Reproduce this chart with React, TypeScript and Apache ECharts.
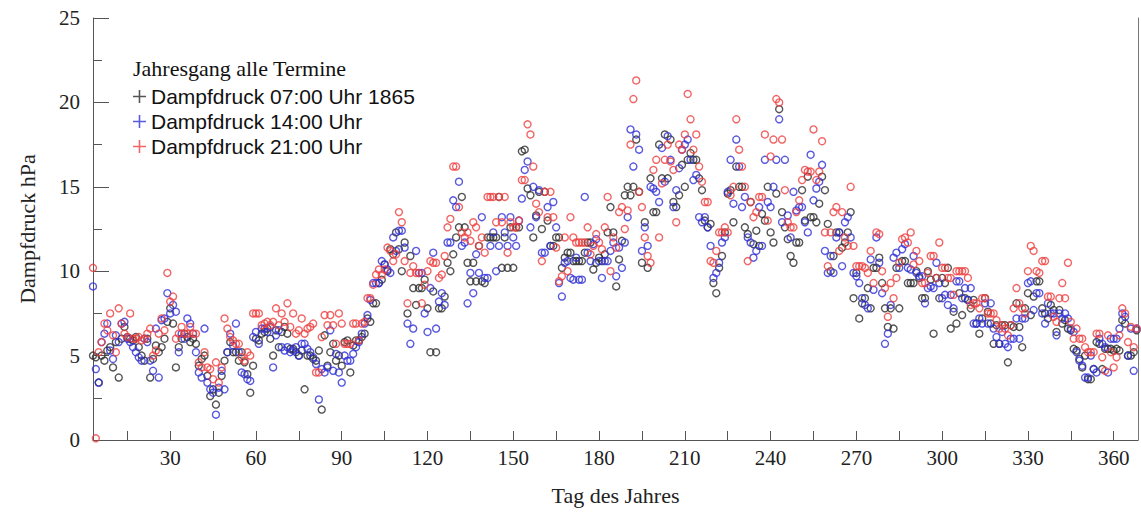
import React, { useEffect, useRef } from "react";
import * as echarts from "echarts";

// first day of the record shown on the axis
const FIRST_DAY = 3;

// Dampfdruck 07:00 Uhr 1865 (hPa), one value per day from FIRST_DAY
const black0700 = [
  5.0, 4.9, 3.4, 5.0, 4.7, 5.3, 5.5, 4.3, 5.8, 3.7,
  6.0, 6.7, 6.1, 6.0, 5.9, 6.1, 5.5, 5.0, 4.7, 6.0,
  3.7, 4.8, 5.6, 5.2, 5.5, 6.0, 7.0, 7.8, 6.9, 4.3,
  5.5, 6.0, 6.3, 6.1, 5.8, 6.0, 5.7, 4.4, 4.8, 5.0,
  3.8, 2.6, 3.0, 2.1, 2.8, 3.8, 4.7, 5.2, 5.8, 5.2,
  5.2, 4.7, 5.2, 4.6, 3.9, 2.8, 4.4, 6.0, 5.9, 6.3,
  6.4, 6.6, 6.0, 5.0, 6.5, 5.5, 6.4, 6.7, 6.3, 5.4,
  5.4, 5.2, 5.0, 5.3, 3.0, 5.0, 5.0, 4.8, 4.7, 5.3,
  1.8, 6.2, 4.4, 5.2, 5.7, 4.7, 5.0, 4.4, 5.8, 5.9,
  4.0, 5.6, 5.9, 5.9, 6.1, 6.3, 7.2, 7.0, 8.1, 8.1,
  9.3, 9.5, 10.4, 10.0, 11.3, 11.0, 12.3, 11.3, 10.0, 11.7,
  7.5, 10.9, 9.0, 8.0, 9.0, 9.0, 9.5, 7.8, 5.2, 8.8,
  5.2, 7.8, 7.8, 8.5, 10.5, 10.0, 11.0, 12.0, 12.6, 14.4,
  12.6, 10.5, 9.4, 10.5, 9.4, 11.5, 9.4, 9.3, 12.0, 12.0,
  12.0, 12.0, 14.4, 10.2, 12.0, 10.2, 12.6, 10.2, 12.6, 12.6,
  17.1, 17.2, 14.9, 14.5, 12.0, 13.3, 14.7, 12.5, 14.7, 13.0,
  11.5, 11.5, 12.0, 12.0, 10.2, 10.8, 11.1, 11.1, 10.6, 10.6,
  10.6, 10.6, 11.1, 11.7, 11.7, 10.1, 10.5, 10.8, 10.6, 11.0,
  12.3, 13.8, 12.3, 9.1, 10.7, 11.8, 14.5, 15.0, 14.5, 15.0,
  17.8, 14.7, 10.5, 12.9, 10.2, 15.5, 13.5, 13.5, 17.5, 15.5,
  18.1, 15.5, 17.8, 14.1, 13.8, 14.5, 16.3, 15.0, 16.6, 17.0,
  16.6, 16.6, 15.5, 14.8, 13.0, 12.6, 12.8, 9.3, 8.7, 10.2,
  10.9, 12.3, 14.6, 14.8, 12.9, 16.2, 15.0, 15.0, 12.6, 12.2,
  14.1, 11.6, 12.4, 11.5, 13.4, 13.0, 15.0, 12.3, 11.7, 14.6,
  19.6, 13.5, 12.6, 11.9, 10.9, 10.5, 11.7, 11.7, 14.8, 13.0,
  15.6, 13.2, 13.2, 12.9, 14.0, 15.6, 14.8, 12.8, 10.0, 10.9,
  12.3, 12.3, 11.4, 11.7, 12.3, 13.5, 8.4, 9.9, 7.2, 8.1,
  8.4, 9.0, 7.8, 10.2, 10.2, 10.8, 9.3, 7.8, 6.7, 7.8,
  6.6, 10.2, 7.8, 10.6, 10.6, 9.3, 9.3, 9.3, 10.0, 9.6,
  8.4, 8.4, 10.0, 9.5, 6.3, 9.6, 8.4, 9.6, 9.3, 10.2,
  6.6, 7.6, 6.9, 8.7, 7.4, 8.4, 8.3, 7.8, 8.3, 6.9,
  6.3, 7.2, 8.4, 7.6, 6.9, 5.7, 6.8, 5.7, 6.8, 6.8,
  4.6, 6.8, 6.7, 8.1, 6.7, 5.5, 7.8, 8.7, 7.4, 8.5,
  9.4, 9.4, 7.8, 7.5, 7.2, 8.0, 7.7, 6.4, 7.7, 6.9,
  7.1, 6.6, 6.5, 5.4, 5.3, 4.8, 4.3, 5.0, 3.6, 3.6,
  4.2, 5.8, 5.7, 4.2, 5.4, 5.4, 5.4, 5.3, 5.4, 5.3,
  7.1, 6.9, 5.0, 5.0, 5.2, 6.5,
];

// Dampfdruck 14:00 Uhr (hPa)
const blue1400 = [
  9.1, 4.2, 3.4, 5.8, 6.3, 6.9, 5.3, 4.8, 6.2, 5.8,
  6.9, 7.0, 6.0, 5.8, 5.5, 5.2, 4.9, 4.7, 6.0, 5.8,
  4.7, 4.1, 6.6, 3.7, 7.1, 7.2, 8.7, 7.5, 8.0, 7.6,
  5.2, 6.3, 6.0, 7.2, 6.9, 6.3, 5.2, 4.0, 3.7, 6.6,
  3.4, 3.0, 2.8, 1.5, 3.1, 4.1, 3.0, 5.2, 6.3, 5.6,
  6.9, 5.2, 4.0, 3.9, 3.6, 3.5, 6.1, 6.4, 5.7, 6.6,
  6.6, 6.4, 6.7, 4.3, 6.2, 6.5, 5.5, 5.3, 5.5, 5.2,
  5.3, 5.5, 5.0, 5.7, 5.7, 5.4, 5.2, 4.9, 4.5, 2.4,
  4.2, 4.0, 4.3, 6.5, 4.1, 5.1, 4.0, 3.4, 5.0, 4.7,
  4.7, 5.1, 5.5, 5.8, 6.3, 6.9, 7.4, 8.3, 9.3, 9.3,
  9.3, 10.6, 10.4, 10.1, 9.9, 12.0, 11.2, 12.4, 12.4, 11.4,
  6.9, 5.7, 6.6, 11.2, 9.9, 9.9, 7.5, 6.4, 9.0, 11.1,
  6.6, 8.2, 8.7, 8.0, 11.7, 11.7, 14.2, 13.8, 15.3, 11.5,
  11.7, 8.1, 9.9, 8.7, 11.0, 9.9, 13.2, 9.6, 9.6, 11.5,
  12.3, 10.0, 11.5, 13.2, 12.3, 11.5, 13.2, 12.0, 11.5, 13.0,
  14.3, 16.0, 16.5, 12.6, 15.0, 13.2, 14.8, 11.1, 11.1, 13.8,
  11.5, 14.1, 12.6, 9.3, 8.5, 10.5, 10.6, 9.6, 9.5, 10.8,
  9.5, 9.5, 14.4, 11.1, 10.6, 11.6, 11.9, 10.6, 9.6, 10.6,
  10.6, 11.2, 11.7, 9.7, 11.4, 10.2, 11.7, 13.2, 18.4, 16.2,
  18.1, 17.2, 11.2, 12.6, 11.5, 15.0, 14.9, 14.7, 14.1, 17.3,
  15.3, 18.0, 16.6, 13.8, 14.8, 16.1, 17.2, 17.5, 17.8, 16.6,
  15.4, 15.7, 13.2, 12.9, 13.2, 12.6, 11.5, 9.6, 9.9, 10.5,
  11.7, 12.0, 14.7, 16.6, 14.0, 17.8, 16.2, 13.8, 14.4, 12.0,
  11.7, 10.8, 11.2, 13.8, 11.5, 16.6, 14.1, 13.8, 15.0, 16.6,
  19.0, 12.9, 16.6, 13.3, 12.0, 14.7, 13.6, 13.8, 13.8, 12.9,
  12.3, 16.9, 14.2, 14.9, 15.3, 16.3, 11.2, 9.9, 10.9, 9.9,
  12.0, 12.3, 10.3, 12.9, 13.2, 12.0, 9.9, 9.7, 9.3, 8.4,
  8.0, 7.8, 10.7, 8.9, 12.0, 10.5, 8.7, 5.7, 6.3, 8.0,
  10.8, 11.1, 10.2, 11.3, 11.6, 10.2, 10.1, 10.9, 9.9, 9.7,
  9.7, 8.1, 9.0, 9.1, 9.0, 10.5, 9.3, 8.4, 8.6, 8.0,
  8.6, 7.8, 9.4, 9.4, 8.4, 9.0, 8.3, 9.0, 6.9, 6.9,
  7.2, 6.9, 8.1, 6.9, 8.1, 6.6, 6.1, 5.7, 6.4, 5.7,
  5.5, 6.0, 6.0, 7.2, 6.0, 7.2, 7.2, 9.3, 9.4, 7.7,
  8.7, 8.7, 7.5, 6.9, 8.1, 7.5, 7.5, 6.2, 7.5, 7.2,
  7.5, 7.2, 6.6, 6.4, 5.2, 4.7, 4.4, 3.7, 3.7, 5.0,
  4.2, 4.0, 6.0, 5.7, 5.5, 4.0, 6.0, 6.0, 6.0, 6.6,
  7.5, 7.3, 5.0, 6.6, 4.1, 6.6,
];

// Dampfdruck 21:00 Uhr (hPa)
const red2100 = [
  10.2, 0.1, 5.2, 5.8, 6.9, 6.5, 7.5, 6.2, 5.2, 7.8,
  6.9, 6.3, 6.1, 7.5, 6.0, 6.0, 6.1, 5.9, 6.0, 6.3,
  6.6, 5.0, 5.3, 6.3, 7.2, 6.5, 9.9, 8.2, 8.5, 6.0,
  6.3, 6.7, 6.3, 6.3, 6.7, 6.3, 6.3, 4.6, 4.3, 5.2,
  4.3, 4.2, 3.6, 4.6, 3.4, 4.3, 7.2, 6.6, 6.1, 5.9,
  5.7, 5.7, 4.9, 4.7, 5.2, 5.0, 7.5, 7.5, 7.5, 6.8,
  6.9, 7.0, 6.8, 7.0, 7.8, 6.8, 7.5, 7.0, 8.1, 6.7,
  7.5, 6.3, 6.5, 7.2, 6.3, 6.6, 6.7, 6.9, 4.0, 4.0,
  6.1, 7.4, 6.8, 7.4, 6.8, 5.7, 7.5, 6.9, 5.7, 5.7,
  5.7, 6.9, 6.9, 5.9, 6.9, 7.0, 8.4, 8.4, 9.2, 9.8,
  10.1, 9.8, 10.1, 11.4, 11.2, 10.6, 11.0, 13.5, 12.9, 10.6,
  8.1, 9.9, 10.3, 9.9, 9.9, 8.1, 9.2, 10.0, 10.6, 10.5,
  10.5, 9.6, 9.8, 10.9, 12.6, 13.1, 16.2, 16.2, 13.8, 12.3,
  12.0, 12.3, 11.8, 12.9, 12.6, 11.5, 12.0, 11.1, 14.4, 14.4,
  14.4, 12.9, 14.4, 12.9, 14.4, 11.1, 12.9, 12.6, 12.6, 13.0,
  15.4, 15.4, 18.7, 18.1, 16.2, 14.0, 13.5, 10.6, 14.7, 13.2,
  14.7, 13.2, 11.4, 9.4, 9.7, 12.0, 10.0, 13.2, 12.0, 11.7,
  11.7, 11.7, 11.7, 12.6, 11.0, 11.5, 12.2, 11.7, 11.3, 12.6,
  14.4, 10.0, 12.0, 11.4, 13.5, 13.8, 12.5, 13.6, 17.5, 20.2,
  21.3, 14.7, 13.8, 12.0, 10.9, 10.5, 16.0, 16.6, 12.0, 15.2,
  16.6, 17.5, 16.5, 16.0, 12.9, 17.5, 17.2, 18.1, 20.5, 19.0,
  17.2, 18.1, 16.2, 15.3, 14.1, 14.1, 10.6, 10.5, 11.2, 12.3,
  12.3, 12.6, 12.3, 14.5, 15.0, 19.0, 17.2, 16.2, 15.0, 10.6,
  14.1, 13.2, 13.5, 14.4, 14.4, 18.1, 13.0, 16.8, 17.8, 20.2,
  20.0, 17.8, 14.8, 12.9, 12.6, 12.6, 13.5, 14.2, 15.4, 16.0,
  15.9, 15.9, 18.4, 15.4, 15.9, 17.7, 12.3, 10.3, 12.3, 13.5,
  13.8, 11.2, 13.5, 12.0, 11.5, 15.0, 11.5, 10.3, 10.3, 10.3,
  10.2, 9.9, 11.2, 9.3, 12.3, 12.2, 10.0, 9.0, 7.3, 9.3,
  8.4, 9.6, 10.5, 11.9, 12.0, 11.7, 12.3, 10.4, 11.2, 10.6,
  9.3, 9.3, 9.9, 10.9, 10.9, 9.6, 11.7, 10.2, 10.2, 9.6,
  9.6, 8.6, 10.0, 10.0, 10.0, 10.0, 9.6, 8.0, 8.1, 8.1,
  7.8, 8.4, 8.4, 7.5, 7.5, 7.5, 7.1, 6.6, 6.8, 6.6,
  6.2, 6.8, 7.8, 9.0, 8.1, 7.8, 7.5, 10.0, 11.5, 11.2,
  10.0, 9.9, 10.6, 10.6, 8.5, 8.5, 7.3, 7.0, 8.4, 9.3,
  8.4, 10.5, 7.0, 6.0, 6.6, 6.0, 6.0, 5.5, 5.2, 5.2,
  5.2, 6.3, 6.3, 4.9, 4.1, 6.2, 5.2, 4.3, 4.9, 6.2,
  7.8, 7.5, 5.8, 6.7, 5.5, 6.6,
];

const seriesNames = [
  "Dampfdruck 07:00 Uhr 1865",
  "Dampfdruck 14:00 Uhr",
  "Dampfdruck 21:00 Uhr",
];
const seriesColors = ["#2a2a2a", "#2f2fd6", "#ee3f3f"];
const legendTitle = "Jahresgang alle Termine";
const xTickValues = [15, 30, 45, 60, 75, 90, 105, 120, 135, 150, 165, 180, 195, 210, 225, 240, 255, 270, 285, 300, 315, 330, 345, 360];
const xLabelValues = [30, 60, 90, 120, 150, 180, 210, 240, 270, 300, 330, 360];
const xName = "Tag des Jahres";
const yName = "Dampfdruck hPa";

const PLUS = "path://M4.4,0L5.6,0L5.6,4.4L10,4.4L10,5.6L5.6,5.6L5.6,10L4.4,10L4.4,5.6L0,5.6L0,4.4L4.4,4.4Z";
const SERIF = "'Liberation Serif', 'Times New Roman', serif";
const SANS = "'Liberation Sans', Arial, sans-serif";

function toPoints(arr: number[]) {
  return arr.map((v, i) => [FIRST_DAY + i, v]);
}

export default function App() {
  const ref = useRef<HTMLDivElement>(null);
  useEffect(() => {
    document.body.style.margin = "0";
    if (!ref.current) return;
    const chart = echarts.init(ref.current, null, { renderer: "svg" });
    const data = [black0700, blue1400, red2100];
    chart.setOption({
      animation: false,
      backgroundColor: "#ffffff",
      title: {
        text: legendTitle,
        left: 133,
        top: 57,
        padding: 0,
        textStyle: { fontFamily: SERIF, fontSize: 22, fontWeight: "normal", color: "#111" },
      },
      legend: {
        orient: "vertical",
        left: 133,
        top: 86,
        padding: 0,
        itemGap: 4,
        itemWidth: 13,
        itemHeight: 13,
        data: seriesNames.map((n, i) => ({ name: n, icon: PLUS, itemStyle: { color: seriesColors[i], borderWidth: 0 } })),
        textStyle: { fontFamily: SANS, fontSize: 21, color: "#111" },
      },
      grid: { left: 93, right: 3, top: 18, bottom: 78 },
      xAxis: {
        type: "value",
        min: 3,
        max: 368.5,
        name: xName,
        nameLocation: "middle",
        nameGap: 44,
        nameTextStyle: { fontFamily: SERIF, fontSize: 22, color: "#222" },
        axisLine: { show: true, onZero: false, lineStyle: { color: "#555", width: 1 } },
        axisTick: { show: true, inside: true, length: 9, customValues: xTickValues, lineStyle: { color: "#555" } },
        axisLabel: { customValues: xLabelValues, fontFamily: SERIF, fontSize: 21, color: "#222", margin: 7 },
        splitLine: { show: false },
      },
      yAxis: [
        {
          type: "value",
          min: 0,
          max: 25,
          interval: 5,
          name: yName,
          nameLocation: "middle",
          nameGap: 55,
          nameTextStyle: { fontFamily: SERIF, fontSize: 22, color: "#222" },
          axisLine: { show: true, onZero: false, lineStyle: { color: "#555", width: 1 } },
          axisTick: { show: true, inside: true, length: 16, lineStyle: { color: "#555" } },
          minorTick: { show: true, splitNumber: 2, length: 9, lineStyle: { color: "#555" } },
          axisLabel: { fontFamily: SERIF, fontSize: 21, color: "#222", margin: 13 },
          splitLine: { show: false },
        },
        {
          type: "value",
          min: 0,
          max: 25,
          position: "right",
          axisLine: { show: true, lineStyle: { color: "#777", width: 1 } },
          axisTick: { show: false },
          axisLabel: { show: false },
          splitLine: { show: false },
        },
      ],
      series: data.map((arr, i) => ({
        name: seriesNames[i],
        type: "scatter",
        data: toPoints(arr),
        symbol: "circle",
        symbolSize: 7,
        itemStyle: { color: "rgba(0,0,0,0)", borderColor: seriesColors[i], borderWidth: 1.4 },
        emphasis: { disabled: true },
      })),
    });
    return () => chart.dispose();
  }, []);
  return <div ref={ref} style={{ width: 1141, height: 518 }} />;
}
